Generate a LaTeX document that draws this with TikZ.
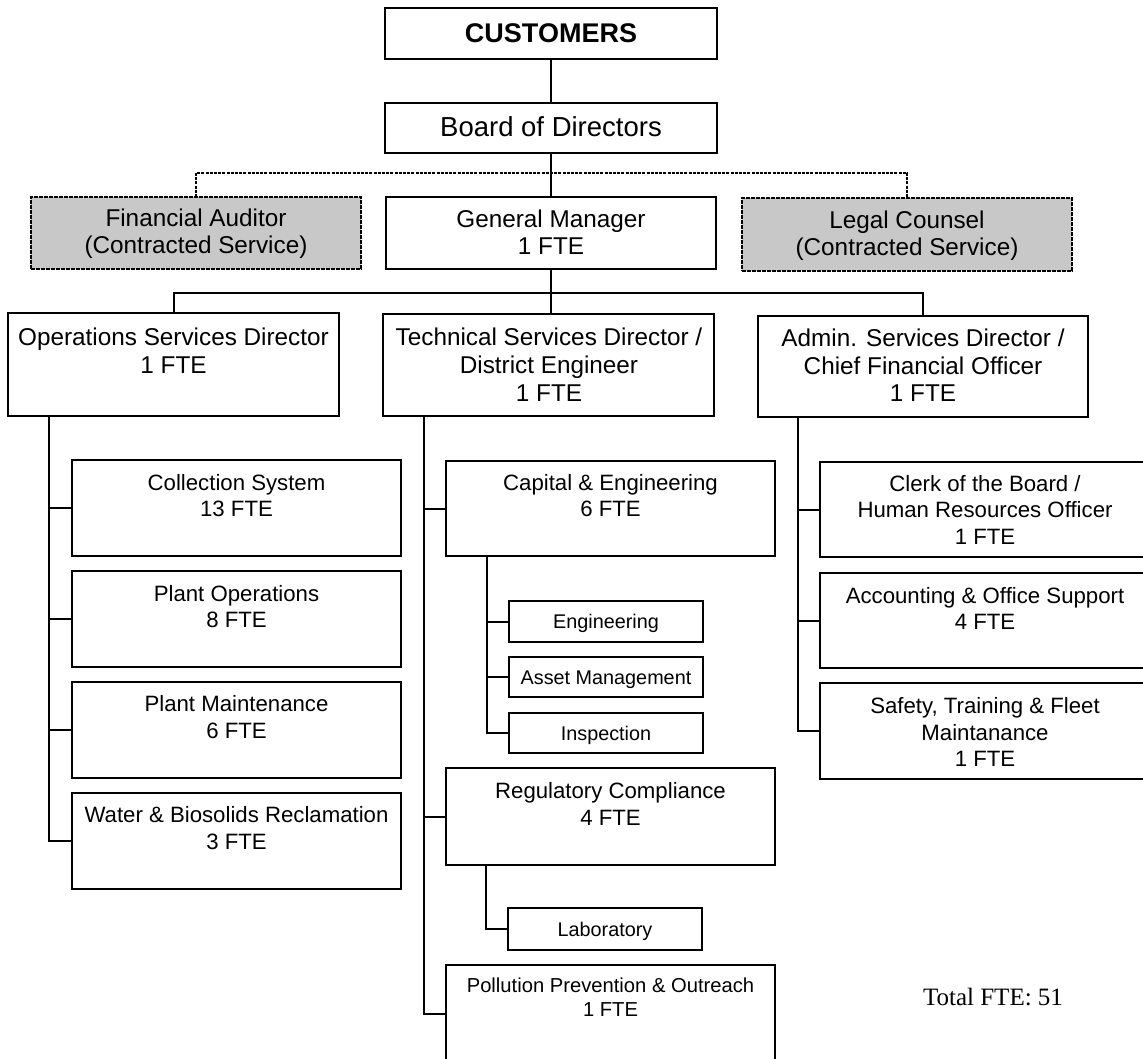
\documentclass[tikz,border=0pt]{standalone}
\usepackage{fontspec}
\setmainfont{Liberation Sans}
\newfontfamily\serifface{Liberation Serif}
\definecolor{boxgray}{RGB}{200,200,200}
\newcommand\mkbox[6][]{\node[box,#1,minimum width={#5-#3},minimum height={#6-#4}] (#2) at (#3,#4) {};}
\begin{document}
\begin{tikzpicture}[x=1pt,y=-1pt,
  box/.style={draw,rectangle,line width=2.2pt,inner sep=0pt,outer sep=0pt,anchor=north west},
  graybox/.style={fill=boxgray,dash pattern=on 4pt off 1pt},
  conn/.style={line width=2pt},
  dconn/.style={line width=2.2pt,dash pattern=on 3pt off 1.2pt},
  tl/.style={anchor=base,inner sep=0pt,outer sep=0pt},
  t28/.style={tl,font=\fontsize{27.5}{30}\selectfont},
  tbold/.style={tl,font=\fontsize{27}{30}\selectfont\bfseries},
  t24/.style={tl,font=\fontsize{24.3}{28}\selectfont},
  t22/.style={tl,font=\fontsize{22.2}{26}\selectfont},
  t20/.style={tl,font=\fontsize{20.2}{24}\selectfont},
  t19/.style={tl,font=\fontsize{19.8}{22}\selectfont},
  tser/.style={tl,font=\fontsize{25}{28}\selectfont\serifface}]
\useasboundingbox (0,0) rectangle (1143,1059);
\fill[white] (0,0) rectangle (1143,1059);
\clip (0,0) rectangle (1143,1059);

% top
\mkbox{cust}{385}{8}{717}{59}
\node[tbold] (custt) at (551,43) {CUSTOMERS};
\mkbox{board}{385}{103}{717}{153}
\node[t28] (boardt) at (551,137) {Board of Directors};

\mkbox[graybox]{fa}{31}{197}{361}{269}
\node[t24] (fa1) at (196,227) {Financial Auditor};
\node[t24] (fa2) at (196,254) {(Contracted Service)};
\mkbox{gm}{386}{197}{716}{269}
\node[t24] (gm1) at (551,228) {General Manager};
\node[t24] (gm2) at (551,255) {1 FTE};
\mkbox[graybox]{lc}{742}{198}{1072}{271}
\node[t24] (lc1) at (907,229) {Legal Counsel};
\node[t24] (lc2) at (907,256) {(Contracted Service)};

% directors
\mkbox{ops}{8}{313}{339}{416}
\node[t24] (ops1) at (173.5,345) {Operations Services Director};
\node[t24] (ops2) at (173.5,373) {1 FTE};
\mkbox{tech}{383}{314}{714}{416}
\node[t24] (tech1) at (549,345) {Technical Services Director /};
\node[t24] (tech2) at (549,373) {District Engineer};
\node[t24] (tech3) at (549,401) {1 FTE};
\mkbox{adm}{758}{316}{1088}{417}
\node[t24] (adm1) at (923,346) {Admin. Services Director /};
\node[t24] (adm2) at (923,374) {Chief Financial Officer};
\node[t24] (adm3) at (923,401) {1 FTE};

% operations children
\mkbox{cs}{72}{460}{401}{556}
\node[t22] (cs1) at (236.5,490) {Collection System};
\node[t22] (cs2) at (236.5,516) {13 FTE};
\mkbox{po}{72}{571}{401}{667}
\node[t22] (po1) at (236.5,601) {Plant Operations};
\node[t22] (po2) at (236.5,627) {8 FTE};
\mkbox{pm}{72}{682}{401}{778}
\node[t22] (pm1) at (236.5,711) {Plant Maintenance};
\node[t22] (pm2) at (236.5,738) {6 FTE};
\mkbox{ws}{72}{793}{401}{889}
\node[t22] (ws1) at (236.5,822) {Water \& Biosolids Reclamation};
\node[t22] (ws2) at (236.5,849) {3 FTE};

% technical children
\mkbox{cap}{446}{461}{775}{556}
\node[t22] (cap1) at (610.5,490) {Capital \& Engineering};
\node[t22] (cap2) at (610.5,516) {6 FTE};
\mkbox{eng}{509}{601}{703}{642}
\node[t19] (engt) at (606,628) {Engineering};
\mkbox{asset}{509}{657}{703}{697}
\node[t19] (assett) at (606,684) {Asset Management};
\mkbox{insp}{509}{713}{703}{753}
\node[t19] (inspt) at (606,740) {Inspection};
\mkbox{reg}{446}{768}{775}{865}
\node[t22] (reg1) at (610.5,798) {Regulatory Compliance};
\node[t22] (reg2) at (610.5,825) {4 FTE};
\mkbox{lab}{508}{908}{702}{950}
\node[t19] (labt) at (605,936) {Laboratory};
\mkbox{pp}{446}{965}{775}{1062}
\node[t20] (pp1) at (610.5,992) {Pollution Prevention \& Outreach};
\node[t20] (pp2) at (610.5,1016) {1 FTE};

% admin children
\mkbox{clerk}{820}{462}{1150}{557}
\node[t22] (clerk1) at (985,491) {Clerk of the Board /};
\node[t22] (clerk2) at (985,517.5) {Human Resources Officer};
\node[t22] (clerk3) at (985,544) {1 FTE};
\mkbox{acct}{820}{573}{1150}{668}
\node[t22] (acct1) at (985,603) {Accounting \& Office Support};
\node[t22] (acct2) at (985,629) {4 FTE};
\mkbox{saf}{820}{683}{1150}{779}
\node[t22] (saf1) at (985,713) {Safety, Training \& Fleet};
\node[t22] (saf2) at (985,740) {Maintanance};
\node[t22] (saf3) at (985,766) {1 FTE};

\node[tser] (total) at (993,1005) {Total FTE: 51};

% connectors
\draw[conn] (cust.south) -- (board.north);
\draw[conn] (board.south) -- (gm.north);
\coordinate (dash) at (551,173);
\draw[dconn] (fa.north) |- (dash) -| (lc.north);
\coordinate (bus) at (551,293);
\draw[conn] (gm.south) -- (bus);
\draw[conn] (ops.north) |- (bus) -| (adm.north);
\draw[conn] (bus) -- (bus |- tech.north);

\coordinate (ov) at (49,416);
\draw[conn] (ov) |- (ws.west);
\foreach \n in {cs,po,pm} \draw[conn] (ov |- \n.west) -- (\n.west);

\coordinate (tv) at (424,416);
\draw[conn] (tv) |- (pp.west);
\foreach \n in {cap,reg} \draw[conn] (tv |- \n.west) -- (\n.west);

\coordinate (cv) at (487,556);
\draw[conn] (cv) |- (insp.west);
\foreach \n in {eng,asset} \draw[conn] (cv |- \n.west) -- (\n.west);

\coordinate (rv) at (486,865);
\draw[conn] (rv) |- (lab.west);

\coordinate (av) at (798,417);
\draw[conn] (av) |- (saf.west);
\foreach \n in {clerk,acct} \draw[conn] (av |- \n.west) -- (\n.west);
\end{tikzpicture}
\end{document}
